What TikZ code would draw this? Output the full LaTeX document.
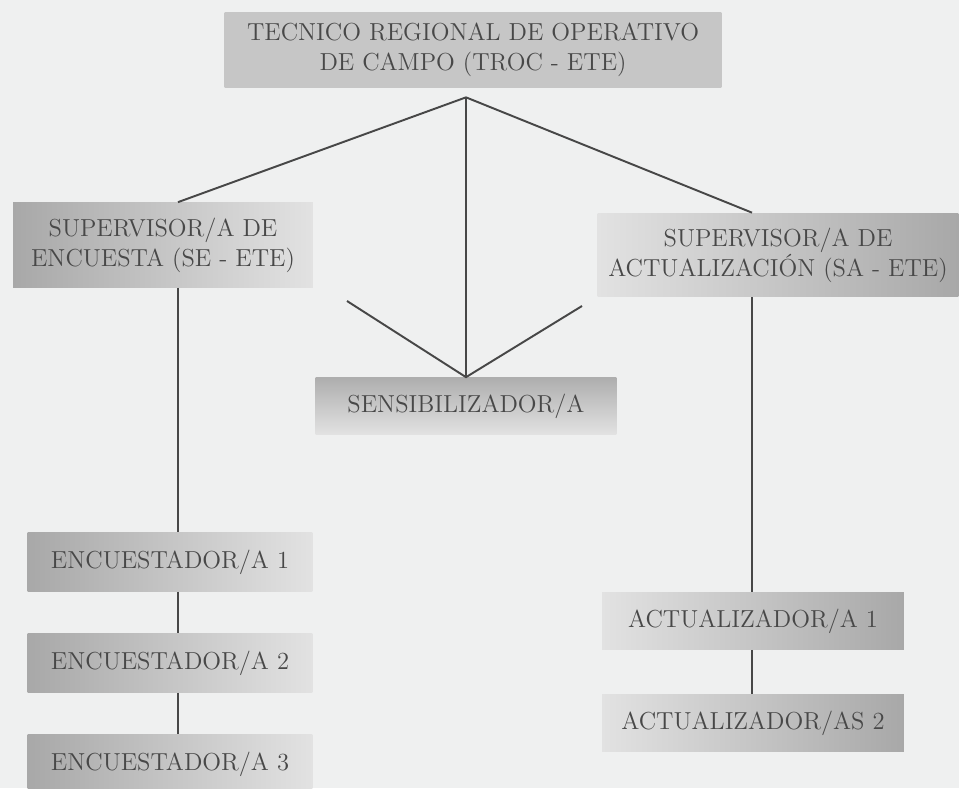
\documentclass[tikz,border=0pt]{standalone}
\usetikzlibrary{calc}

\definecolor{bggray}{HTML}{EFF0F0}
\definecolor{boxdark}{HTML}{A8A8A8}
\definecolor{boxmid}{HTML}{C6C6C6}
\definecolor{boxlight}{HTML}{E2E2E2}
\definecolor{textgray}{HTML}{484848}
\definecolor{linegray}{HTML}{474747}

\tikzset{
  box/.style={inner sep=2pt, align=center, text=textgray,
    font=\fontsize{14}{17}\selectfont},
  darkleft/.style={box, left color=boxdark, right color=boxlight},
  darkright/.style={box, left color=boxlight, right color=boxdark},
  link/.style={draw=linegray, line width=1.1pt}
}

\begin{document}
\begin{tikzpicture}[x=0.02cm, y=-0.02cm]

% page
\useasboundingbox (0,0) rectangle (959,788);
\clip (0,0) rectangle (959,788);
\fill[bggray] (0,0) rectangle (959,788);

% boxes
\node[box, left color=boxmid, middle color=boxlight!80!boxmid, right color=boxmid,
  minimum width=9.94cm, minimum height=1.52cm] (troc) at (473,50)
  {TECNICO REGIONAL DE OPERATIVO\\DE CAMPO (TROC - ETE)};

\node[darkleft, minimum width=6cm, minimum height=1.7cm] (supE) at (163,245)
  {SUPERVISOR/A DE\\ENCUESTA (SE - ETE)};
\node[darkright, minimum width=7.22cm, minimum height=1.68cm] (supA) at (778,255)
  {SUPERVISOR/A DE\\ACTUALIZACIÓN (SA - ETE)};

\node[box, top color=boxdark!80!boxmid, bottom color=boxlight,
  minimum width=6.02cm, minimum height=1.14cm] (sens) at (466,406) {SENSIBILIZADOR/A};

\node[darkleft, minimum width=5.7cm, minimum height=1.18cm] (enc1) at (170,562) {ENCUESTADOR/A 1};
\node[darkleft, minimum width=5.7cm, minimum height=1.18cm] (enc2) at (170,663) {ENCUESTADOR/A 2};
\node[darkleft, minimum width=5.7cm, minimum height=1.18cm] (enc3) at (170,764) {ENCUESTADOR/A 3};

\node[darkright, minimum width=6.04cm, minimum height=1.14cm] (act1) at (753,621) {ACTUALIZADOR/A 1};
\node[darkright, minimum width=6.04cm, minimum height=1.14cm] (act2) at (753,723) {ACTUALIZADOR/AS 2};

% meeting points and columns
\coordinate (apex) at ($(troc.south)+(-7,9)$);
\coordinate (colE) at (178,0);
\coordinate (colA) at (752,0);
\coordinate (vleft) at (347,301);
\coordinate (vright) at (582,306);

% connectors
\draw[link] (supE.north -| colE) -- (apex) -- (supA.north -| colA);
\draw[link] (apex) -- (sens.north -| apex);
\draw[link] (vleft) -- (sens.north -| apex) -- (vright);

\draw[link] (supE.south -| colE) -- (enc1.north -| colE);
\draw[link] (enc1.south -| colE) -- (enc2.north -| colE);
\draw[link] (enc2.south -| colE) -- (enc3.north -| colE);

\draw[link] (supA.south -| colA) -- (act1.north -| colA);
\draw[link] (act1.south -| colA) -- (act2.north -| colA);

\end{tikzpicture}
\end{document}
